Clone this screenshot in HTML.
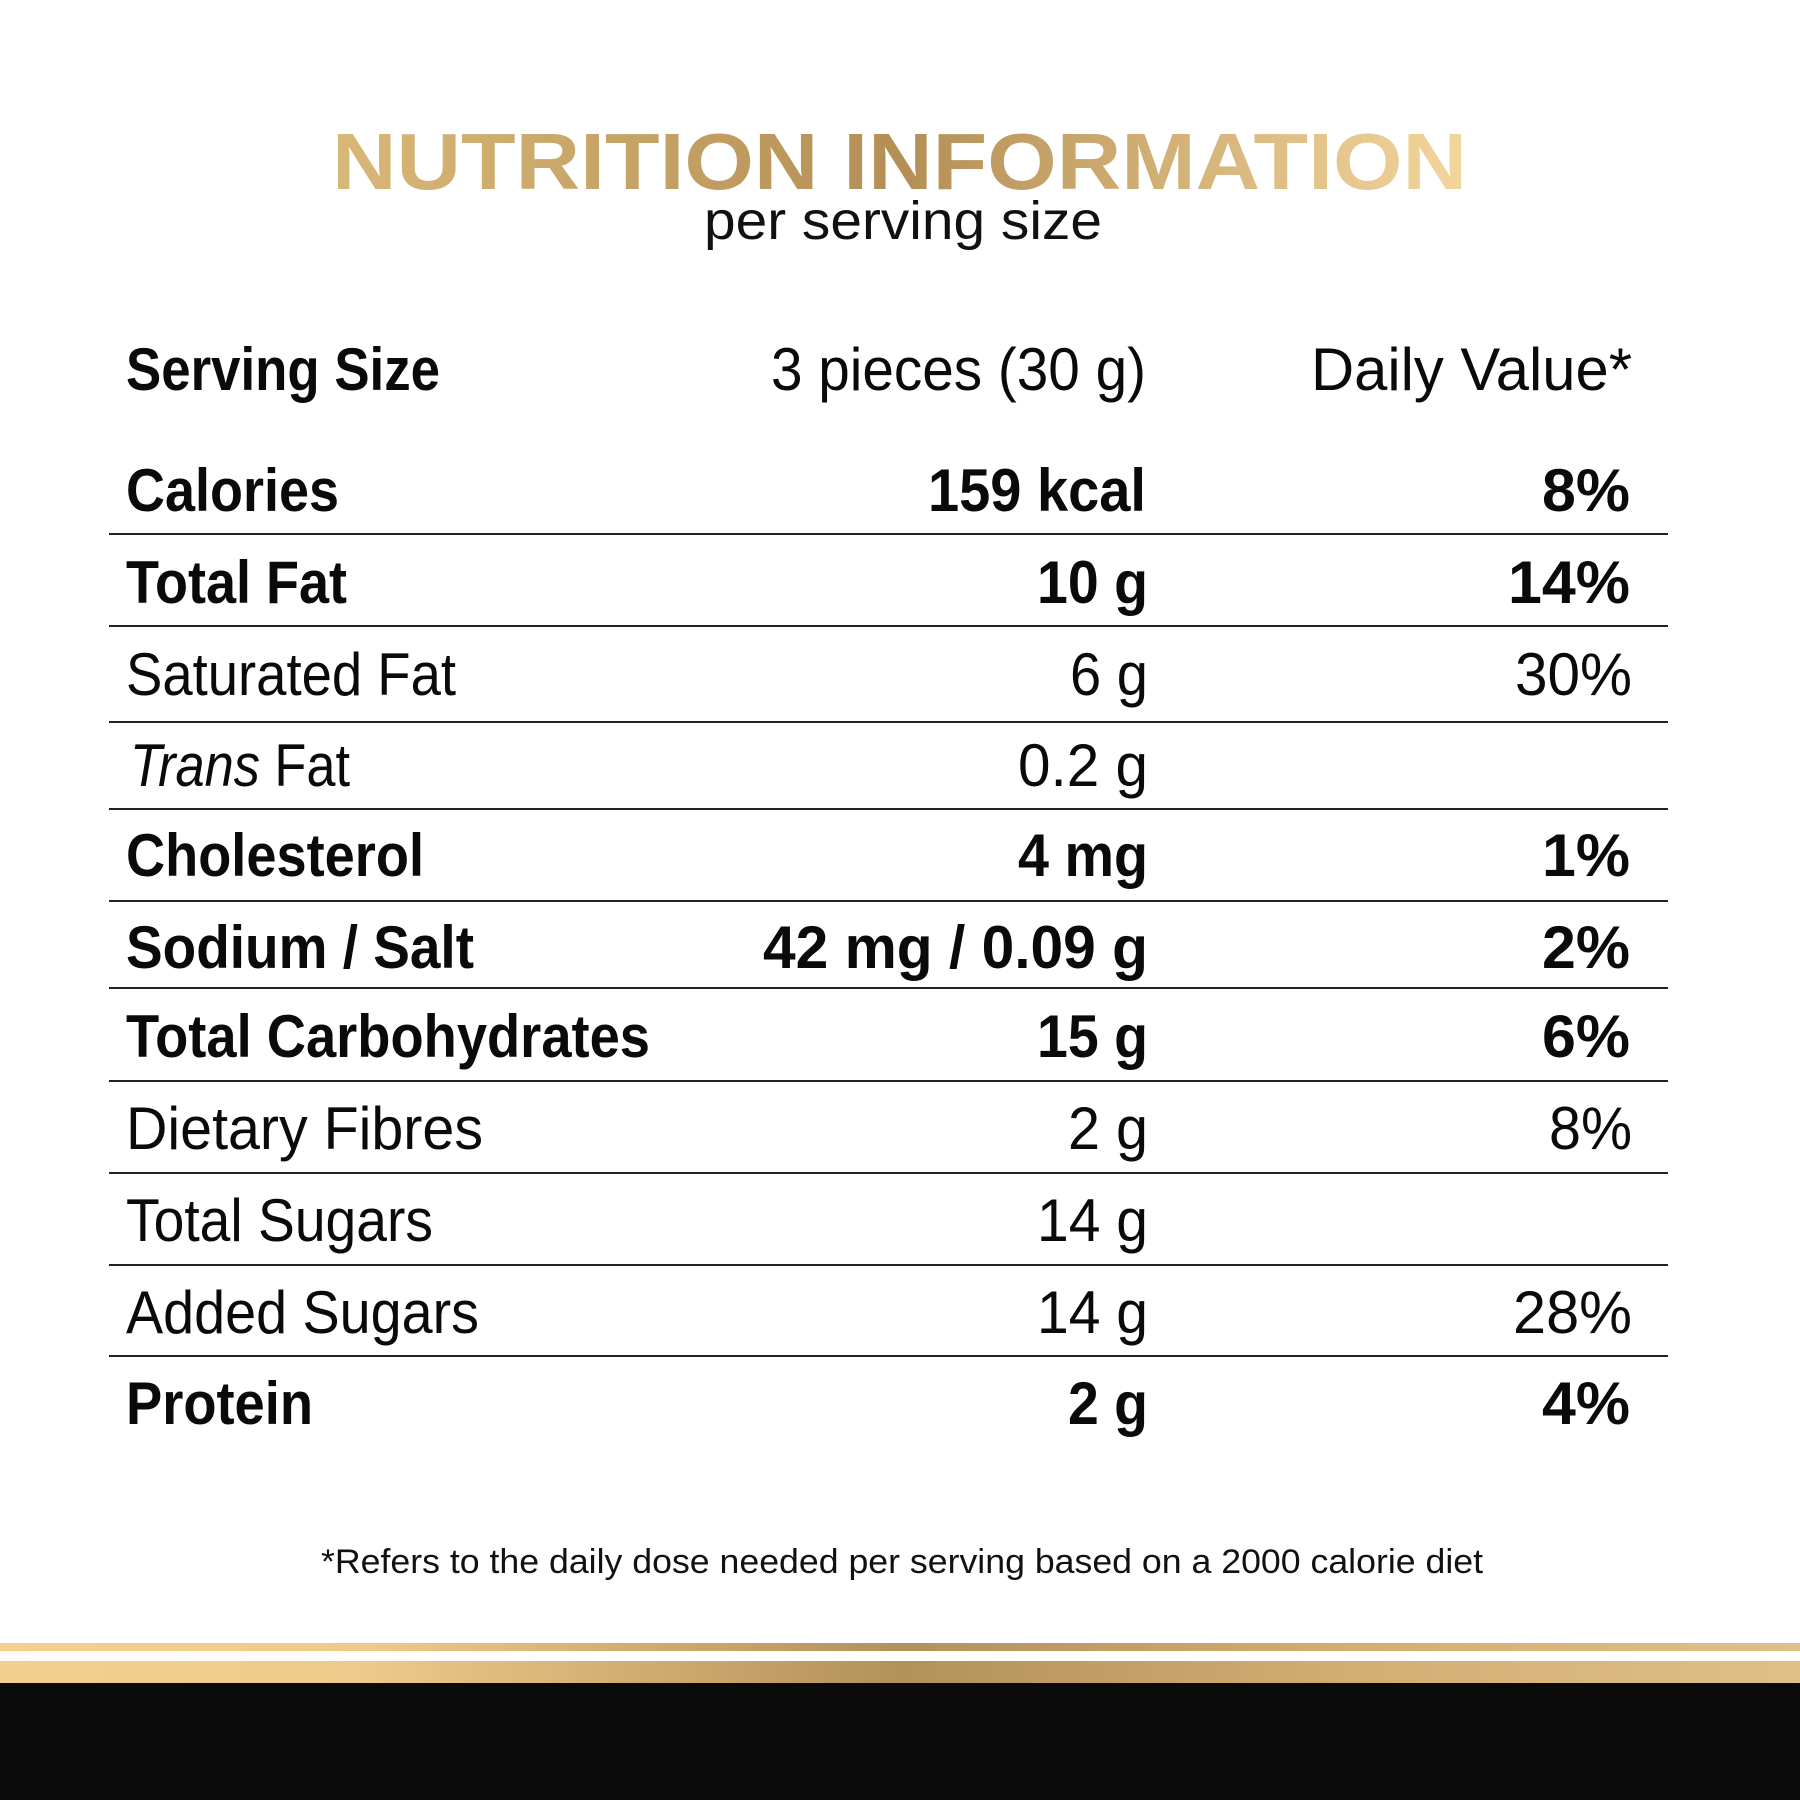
<!DOCTYPE html>
<html><head><meta charset="utf-8"><style>html,body{margin:0;padding:0;background:#fff}svg{display:block}</style></head>
<body>
<svg width="1800" height="1800" viewBox="0 0 1800 1800" xmlns="http://www.w3.org/2000/svg" font-family="Liberation Sans, sans-serif">
<defs>
<linearGradient id="tg" x1="332" y1="0" x2="1467" y2="0" gradientUnits="userSpaceOnUse">
<stop offset="0" stop-color="#d8b878"/><stop offset="0.5" stop-color="#b48f55"/><stop offset="1" stop-color="#f3d69c"/></linearGradient>
<linearGradient id="bg" x1="0" y1="0" x2="1800" y2="0" gradientUnits="userSpaceOnUse">
<stop offset="0" stop-color="#f3d08c"/><stop offset="0.2" stop-color="#eecb8a"/><stop offset="0.5" stop-color="#b3915b"/><stop offset="0.75" stop-color="#d2ae74"/><stop offset="1" stop-color="#dfc088"/></linearGradient>
</defs>
<rect width="1800" height="1800" fill="#fff"/>
<text x="332" y="189" font-size="80" font-weight="bold" fill="url(#tg)" textLength="1135" lengthAdjust="spacingAndGlyphs">NUTRITION INFORMATION</text>
<text x="704" y="239" font-size="54" fill="#111" textLength="398" lengthAdjust="spacingAndGlyphs">per serving size</text>
<g font-size="60" fill="#0a0a0a">
<text x="126" y="390" font-weight="bold" textLength="314" lengthAdjust="spacingAndGlyphs">Serving Size</text>
<text x="1146" y="390" text-anchor="end" textLength="375" lengthAdjust="spacingAndGlyphs">3 pieces (30 g)</text>
<text x="1632" y="390" text-anchor="end" textLength="321" lengthAdjust="spacingAndGlyphs">Daily Value*</text>

<g font-weight="bold">
<text x="126" y="511" textLength="213" lengthAdjust="spacingAndGlyphs">Calories</text>
<text x="1146" y="511" text-anchor="end" textLength="218" lengthAdjust="spacingAndGlyphs">159 kcal</text>
<text x="1630" y="511" text-anchor="end" textLength="88" lengthAdjust="spacingAndGlyphs">8%</text>
<text x="126" y="603" textLength="221" lengthAdjust="spacingAndGlyphs">Total Fat</text>
<text x="1148" y="603" text-anchor="end" textLength="111" lengthAdjust="spacingAndGlyphs">10 g</text>
<text x="1630" y="603" text-anchor="end" textLength="122" lengthAdjust="spacingAndGlyphs">14%</text>
</g>
<text x="126" y="695" textLength="330" lengthAdjust="spacingAndGlyphs">Saturated Fat</text>
<text x="1148" y="695" text-anchor="end" textLength="78" lengthAdjust="spacingAndGlyphs">6 g</text>
<text x="1632" y="695" text-anchor="end" textLength="117" lengthAdjust="spacingAndGlyphs">30%</text>
<text x="130" y="786" textLength="220" lengthAdjust="spacingAndGlyphs"><tspan font-style="italic">Trans</tspan> Fat</text>
<text x="1148" y="786" text-anchor="end" textLength="130" lengthAdjust="spacingAndGlyphs">0.2 g</text>
<g font-weight="bold">
<text x="126" y="876" textLength="298" lengthAdjust="spacingAndGlyphs">Cholesterol</text>
<text x="1148" y="876" text-anchor="end" textLength="130" lengthAdjust="spacingAndGlyphs">4 mg</text>
<text x="1630" y="876" text-anchor="end" textLength="88" lengthAdjust="spacingAndGlyphs">1%</text>
<text x="126" y="968" textLength="348" lengthAdjust="spacingAndGlyphs">Sodium / Salt</text>
<text x="1148" y="968" text-anchor="end" textLength="385" lengthAdjust="spacingAndGlyphs">42 mg / 0.09 g</text>
<text x="1630" y="968" text-anchor="end" textLength="88" lengthAdjust="spacingAndGlyphs">2%</text>
<text x="126" y="1057" textLength="524" lengthAdjust="spacingAndGlyphs">Total Carbohydrates</text>
<text x="1148" y="1057" text-anchor="end" textLength="111" lengthAdjust="spacingAndGlyphs">15 g</text>
<text x="1630" y="1057" text-anchor="end" textLength="88" lengthAdjust="spacingAndGlyphs">6%</text>
</g>
<text x="126" y="1149" textLength="357" lengthAdjust="spacingAndGlyphs">Dietary Fibres</text>
<text x="1148" y="1149" text-anchor="end" textLength="80" lengthAdjust="spacingAndGlyphs">2 g</text>
<text x="1632" y="1149" text-anchor="end" textLength="83" lengthAdjust="spacingAndGlyphs">8%</text>
<text x="126" y="1241" textLength="307" lengthAdjust="spacingAndGlyphs">Total Sugars</text>
<text x="1148" y="1241" text-anchor="end" textLength="111" lengthAdjust="spacingAndGlyphs">14 g</text>
<text x="126" y="1333" textLength="353" lengthAdjust="spacingAndGlyphs">Added Sugars</text>
<text x="1148" y="1333" text-anchor="end" textLength="111" lengthAdjust="spacingAndGlyphs">14 g</text>
<text x="1632" y="1333" text-anchor="end" textLength="119" lengthAdjust="spacingAndGlyphs">28%</text>
<g font-weight="bold">
<text x="126" y="1424" textLength="187" lengthAdjust="spacingAndGlyphs">Protein</text>
<text x="1148" y="1424" text-anchor="end" textLength="80" lengthAdjust="spacingAndGlyphs">2 g</text>
<text x="1630" y="1424" text-anchor="end" textLength="88" lengthAdjust="spacingAndGlyphs">4%</text>
</g>
</g>
<g stroke="#222" stroke-width="2">
<line x1="109" x2="1668" y1="534" y2="534"/>
<line x1="109" x2="1668" y1="626" y2="626"/>
<line x1="109" x2="1668" y1="722" y2="722"/>
<line x1="109" x2="1668" y1="809" y2="809"/>
<line x1="109" x2="1668" y1="901" y2="901"/>
<line x1="109" x2="1668" y1="988" y2="988"/>
<line x1="109" x2="1668" y1="1081" y2="1081"/>
<line x1="109" x2="1668" y1="1173" y2="1173"/>
<line x1="109" x2="1668" y1="1265" y2="1265"/>
<line x1="109" x2="1668" y1="1356" y2="1356"/>
</g>
<text x="321" y="1573" font-size="34" fill="#111" textLength="1162" lengthAdjust="spacingAndGlyphs">*Refers to the daily dose needed per serving based on a 2000 calorie diet</text>
<rect x="0" y="1643" width="1800" height="8" fill="url(#bg)"/>
<rect x="0" y="1661" width="1800" height="22" fill="url(#bg)"/>
<rect x="0" y="1683" width="1800" height="117" fill="#0b0b0b"/>
</svg>
</body></html>
